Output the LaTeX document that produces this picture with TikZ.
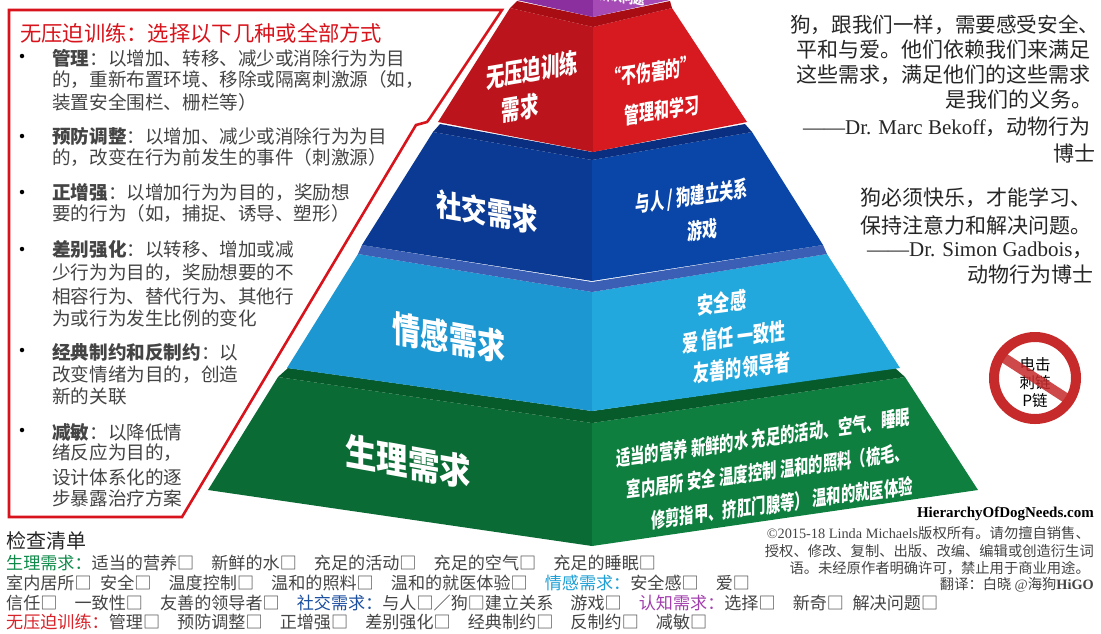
\documentclass[tikz,border=0pt]{standalone}
\usepackage{fontspec}
\setmainfont{Noto Sans CJK SC}
\newfontfamily\lat{Liberation Serif}
\newcommand{\fs}[1]{\fontsize{#1}{#1}\selectfont}
\definecolor{bodyg}{HTML}{444444}
\definecolor{panelred}{HTML}{D8131B}
\definecolor{grnL}{HTML}{0A6B35}\definecolor{grnR}{HTML}{0F7F40}\definecolor{grnB}{HTML}{075A2A}
\definecolor{ltbL}{HTML}{1C97D2}\definecolor{ltbR}{HTML}{23A8DD}\definecolor{ltbB}{HTML}{3A5FB5}
\definecolor{bluL}{HTML}{0B3A94}\definecolor{bluR}{HTML}{0A46A8}\definecolor{bluB}{HTML}{0A2F80}
\definecolor{redL}{HTML}{BC141C}\definecolor{redR}{HTML}{D71920}\definecolor{redB}{HTML}{A80D14}
\definecolor{purL}{HTML}{8C2F9E}\definecolor{purR}{HTML}{A64BB5}
\definecolor{ckG}{HTML}{0F8A4A}\definecolor{ckL}{HTML}{1EA0D5}\definecolor{ckB}{HTML}{1B4FA0}\definecolor{ckP}{HTML}{A23FAE}\definecolor{ckR}{HTML}{D8232A}
\definecolor{signred}{HTML}{C62A2A}
\tikzset{
 pl/.style={anchor=west,inner sep=0pt,text=bodyg,font=\fs{18.6}},
 head/.style={anchor=west,inner sep=0pt,text=panelred,font=\fs{21.3}},
 bul/.style={circle,fill=black,inner sep=0pt,minimum size=4.5pt},
 quo/.style={anchor=west,inner sep=0pt,text=black!85,font=\fs{21}},
 ck/.style={anchor=west,inner sep=0pt,text=bodyg,font=\fs{17.1}},
 foot/.style={anchor=east,inner sep=0pt,text=bodyg,font=\fs{14.3}},
 sk/.style={transform shape,inner sep=0pt,text=white,font=\bfseries},
 signt/.style={inner sep=0pt,text=black,font=\fs{15.5}},
}
\newcommand{\gp}{\hspace{1em}}
\begin{document}
\begin{tikzpicture}[x=1pt,y=-1pt]
\useasboundingbox (0,0) rectangle (1101,633);
\fill[white] (0,0) rectangle (1101,633);
% green
\fill[grnL] (278,377) -- (592,423) -- (592,546) -- (208,490) -- cycle;
\fill[grnR] (905,377) -- (592,423) -- (592,546) -- (978,490) -- cycle;
\fill[grnB] (288,368) -- (592,411) -- (895,368) -- (905,377) -- (592,423) -- (278,377) -- cycle;
% light blue
\fill[ltbL] (358,254) -- (592,292) -- (592,411) -- (287,368) -- cycle;
\fill[ltbR] (827,254) -- (592,292) -- (592,411) -- (900,368) -- cycle;
\fill[ltbB] (362,245) -- (592,282) -- (823,245) -- (827,254) -- (592,292) -- (358,254) -- cycle;
% blue
\fill[bluL] (433,132) -- (592,160) -- (592,281) -- (362,245) -- cycle;
\fill[bluR] (752,132) -- (592,160) -- (592,281) -- (823,245) -- cycle;
\fill[bluB] (440,124) -- (592,152) -- (745,124) -- (752,132) -- (592,160) -- (433,132) -- cycle;
% red
\fill[redL] (510,8) -- (593,27) -- (593,152) -- (438,122) -- cycle;
\fill[redR] (672,8) -- (593,27) -- (593,152) -- (747,122) -- cycle;
\fill[redB] (517,1) -- (593,17) -- (670,1) -- (672,8) -- (593,27) -- (510,8) -- cycle;
% purple
\fill[purL] (517,0) -- (593,17) -- (593,0) -- cycle;
\fill[purR] (670,0) -- (593,17) -- (593,0) -- cycle;
% panel
\draw[panelred,line width=2.6pt,line join=miter] (9,10) -- (502,10) -- (430,118) -- (427,122) -- (416,125) -- (182,517) -- (9,517) -- cycle;
\node[head] (h0) at (20,33) {无压迫训练：选择以下几种或全部方式};
\node[bul] (b1) at (22,56) {};
\node[pl] (p1) at (52,58) {\textbf{管理}：以增加、转移、减少或消除行为为目};
\node[pl] (p2) at (52,80) {的，重新布置环境、移除或隔离刺激源（如，};
\node[pl] (p3) at (52,102) {装置安全围栏、栅栏等）};
\node[bul] (b2) at (22,136) {};
\node[pl] (p4) at (52,136) {\textbf{预防调整}：以增加、减少或消除行为为目};
\node[pl] (p5) at (52,158) {的，改变在行为前发生的事件（刺激源）};
\node[bul] (b3) at (22,192) {};
\node[pl] (p6) at (52,192) {\textbf{正增强}：以增加行为为目的，奖励想};
\node[pl] (p7) at (52,214) {要的行为（如，捕捉、诱导、塑形）};
\node[bul] (b4) at (22,249) {};
\node[pl] (p8) at (52,249) {\textbf{差别强化}：以转移、增加或减};
\node[pl] (p9) at (52,273) {少行为为目的，奖励想要的不};
\node[pl] (p10) at (52,296) {相容行为、替代行为、其他行};
\node[pl] (p11) at (52,318) {为或行为发生比例的变化};
\node[bul] (b5) at (22,350) {};
\node[pl] (p12) at (52,352) {\textbf{经典制约和反制约}：以};
\node[pl] (p13) at (52,375) {改变情绪为目的，创造};
\node[pl] (p14) at (52,396) {新的关联};
\node[bul] (b6) at (22,430) {};
\node[pl] (p15) at (52,432) {\textbf{减敏}：以降低情};
\node[pl] (p16) at (52,453) {绪反应为目的，};
\node[pl] (p17) at (52,477) {设计体系化的逐};
\node[pl] (p18) at (52,498) {步暴露治疗方案};
% pyramid text
\node[sk,shift={(622,-3)},yslant=-.14,xscale=.8,font=\bfseries\fs{14}] (t0) at (0,0) {解决问题};
\node[sk,shift={(532,70)},yslant=.17,xscale=.68,font=\bfseries\fs{27}] (t1) at (0,0) {无压迫训练};
\node[sk,shift={(520,108)},yslant=.17,xscale=.68,font=\bfseries\fs{27}] (t2) at (0,0) {需求};
\node[sk,shift={(651,72)},yslant=.15,xscale=.68,font=\bfseries\fs{22}] (t3) at (0,0) {“不伤害的”};
\node[sk,shift={(662,110)},yslant=.15,xscale=.68,font=\bfseries\fs{22}] (t4) at (0,0) {管理和学习};
\node[sk,shift={(487,212)},yslant=-.17,xscale=.82,font=\bfseries\fs{31}] (t5) at (0,0) {社交需求};
\node[sk,shift={(692,197)},yslant=.14,xscale=.65,font=\bfseries\fs{22}] (t6) at (0,0) {与人 / 狗建立关系};
\node[sk,shift={(702,230)},yslant=.14,xscale=.68,font=\bfseries\fs{22}] (t7) at (0,0) {游戏};
\node[sk,shift={(449,338)},yslant=-.18,xscale=.78,font=\bfseries\fs{36}] (t8) at (0,0) {情感需求};
\node[sk,shift={(722,303)},yslant=.13,xscale=.7,font=\bfseries\fs{23}] (t9) at (0,0) {安全感};
\node[sk,shift={(734,337)},yslant=.13,xscale=.7,font=\bfseries\fs{23}] (t10) at (0,0) {爱 信任 一致性};
\node[sk,shift={(742,368)},yslant=.13,xscale=.7,font=\bfseries\fs{23}] (t11) at (0,0) {友善的领导者};
\node[sk,shift={(408,462)},yslant=-.18,xscale=.85,font=\bfseries\fs{37}] (t12) at (0,0) {生理需求};
\node[sk,shift={(763,438)},yslant=.143,xscale=.7,font=\bfseries\fs{20.5}] (t13) at (0,0) {适当的营养 新鲜的水 充足的活动、空气、睡眠};
\node[sk,shift={(768,471)},yslant=.135,xscale=.7,font=\bfseries\fs{20.5}] (t14) at (0,0) {室内居所 安全 温度控制 温和的照料（梳毛、};
\node[sk,shift={(782,503)},yslant=.135,xscale=.7,font=\bfseries\fs{20.5}] (t15) at (0,0) {修剪指甲、挤肛门腺等） 温和的就医体验};
% quotes
\node[quo,font=\fs{20.6}] (q1) at (790,25) {狗，跟我们一样，需要感受安全、};
\node[quo] (q2) at (796,50) {平和与爱。他们依赖我们来满足};
\node[quo] (q3) at (796,75) {这些需求，满足他们的这些需求};
\node[quo] (q4) at (945,100) {是我们的义务。};
\node[quo] (q5) at (803,127) {{\lat ——Dr. Marc Bekoff}，动物行为};
\node[quo] (q6) at (1053,153) {博士};
\node[quo] (q7) at (860,198) {狗必须快乐，才能学习、};
\node[quo] (q8) at (860,225) {保持注意力和解决问题。};
\node[quo] (q9) at (867,250) {{\lat ——Dr. Simon Gadbois}，};
\node[quo] (q10) at (967,275) {动物行为博士};
% sign
\node[signt] (s1) at (1035,365) {电击};
\node[signt] (s2) at (1035,383) {刺链};
\node[signt] (s3) at (1035,401) {P链};
\draw[signred,line width=10pt] (1035,378) circle (41);
\draw[signred,opacity=.85,line width=10pt] (1001,356) -- (1069,400);
% checklist
\node[anchor=west,inner sep=0pt,text=black!85,font=\fs{20}] (c0) at (6,541) {检查清单};
\node[ck] (c1) at (6,563) {\textcolor{ckG}{生理需求：}适当的营养□\gp 新鲜的水□\gp 充足的活动□\gp 充足的空气□\gp 充足的睡眠□};
\node[ck] (c2) at (6,583) {室内居所□\hspace{.5em}安全□\gp 温度控制□\gp 温和的照料□\gp 温和的就医体验□\gp\textcolor{ckL}{情感需求：}安全感□\gp 爱□};
\node[ck] (c3) at (6,603) {信任□\gp 一致性□\gp 友善的领导者□\gp\textcolor{ckB}{社交需求：}与人□／狗□建立关系\gp 游戏□\gp\textcolor{ckP}{认知需求：}选择□\gp 新奇□\hspace{.5em}解决问题□};
\node[ck] (c4) at (6,622) {\textcolor{ckR}{无压迫训练：}管理□\gp 预防调整□\gp 正增强□\gp 差别强化□\gp 经典制约□\gp 反制约□\gp 减敏□};
% footer
\node[foot,text=black,font=\lat\bfseries\fs{15}] (f1) at (1094,514) {HierarchyOfDogNeeds.com};
\node[foot] (f2) at (1090,533) {{\lat ©2015-18 Linda Michaels}版权所有。请勿擅自销售、};
\node[foot] (f3) at (1094,551) {授权、修改、复制、出版、改编、编辑或创造衍生词};
\node[foot] (f4) at (1090,568) {语。未经原作者明确许可，禁止用于商业用途。};
\node[foot] (f5) at (1094,585) {翻译：白晓 {\lat @}海狗{\lat\bfseries HiGO}};
\end{tikzpicture}
\end{document}
